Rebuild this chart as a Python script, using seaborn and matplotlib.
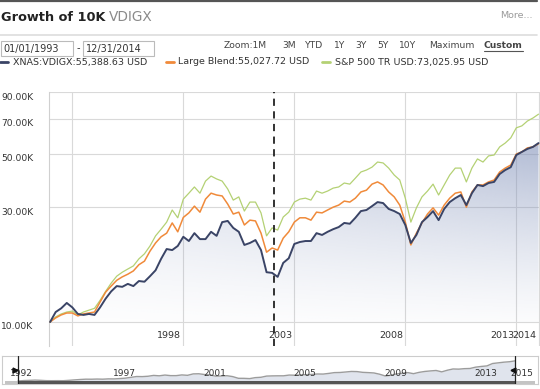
import numpy as np
import pandas as pd
import matplotlib
matplotlib.use("Agg")
import matplotlib.pyplot as plt
import matplotlib.transforms as mtransforms
from matplotlib.patches import Rectangle
from matplotlib.lines import Line2D
import seaborn as sns

# quarterly observations, 1993 Q1 -> end of 2014 (decimal years)
dates = np.arange(1993.0, 2015.01, 0.25)

# growth of 10K, values in thousands USD
vdigx = [10.0, 11.0, 11.4, 12.0, 11.5, 10.8, 10.7, 10.8, 10.7, 11.5,
         12.5, 13.4, 14.1, 14.0, 14.4, 14.1, 14.8, 14.7, 15.5, 16.4,
         18.3, 20.1, 19.9, 20.7, 22.6, 21.7, 23.4, 22.1, 22.1, 23.7,
         22.8, 26.0, 26.3, 24.6, 23.7, 20.9, 21.3, 21.9, 19.9, 16.1,
         16.0, 15.4, 17.6, 18.4, 21.1, 21.5, 21.7, 21.7, 23.4, 23.0,
         23.7, 24.3, 24.8, 25.8, 25.6, 27.1, 28.9, 29.2, 30.3, 31.5,
         31.2, 29.5, 28.9, 28.1, 25.3, 21.3, 23.0, 26.0, 27.3, 28.9,
         26.5, 29.5, 31.5, 32.7, 33.7, 30.6, 34.3, 37.1, 36.7, 37.8,
         38.2, 41.2, 42.8, 44.0, 49.4, 50.9, 52.4, 53.4, 55.39]
large_blend = [10.0, 10.4, 10.7, 10.9, 10.9, 10.6, 10.8, 10.9, 11.0, 12.1,
               13.3, 14.1, 14.9, 15.4, 15.8, 16.3, 17.3, 17.9, 19.7, 21.3,
               22.6, 23.4, 25.8, 23.7, 27.2, 28.4, 30.3, 28.6, 32.4, 34.3,
               33.7, 33.4, 30.9, 28.1, 28.6, 25.3, 26.5, 26.3, 23.4, 19.5,
               20.3, 19.9, 22.3, 23.7, 26.0, 27.1, 27.1, 26.5, 28.6, 28.4,
               29.2, 30.0, 30.6, 31.8, 31.5, 32.7, 34.7, 35.3, 37.4, 38.2,
               37.1, 34.7, 33.1, 30.6, 26.0, 20.9, 23.4, 25.8, 28.1, 29.8,
               27.8, 30.6, 32.7, 34.3, 34.7, 30.0, 34.7, 37.1, 37.1, 38.2,
               38.9, 42.0, 43.6, 44.9, 49.9, 50.9, 52.9, 53.4, 55.03]
sp500_tr = [10.0, 10.5, 10.8, 11.0, 11.1, 10.7, 11.0, 11.2, 11.4, 12.3,
            13.4, 14.5, 15.5, 16.1, 16.6, 17.1, 18.3, 19.2, 20.7, 22.8,
            24.3, 26.0, 29.2, 27.1, 32.4, 34.3, 36.4, 34.3, 38.5, 40.4,
            39.3, 38.5, 35.7, 32.1, 33.1, 28.9, 31.5, 31.5, 28.4, 22.8,
            24.6, 24.1, 27.3, 28.6, 31.5, 32.4, 32.7, 32.1, 35.0, 34.3,
            35.0, 36.0, 36.4, 37.8, 37.4, 39.6, 42.0, 42.8, 44.0, 46.2,
            45.8, 43.6, 40.8, 38.9, 32.7, 26.0, 29.8, 33.1, 35.0, 37.4,
            33.7, 37.1, 40.8, 43.6, 43.6, 38.2, 43.6, 47.6, 46.2, 49.0,
            49.4, 53.4, 55.4, 58.2, 64.1, 65.3, 68.4, 70.4, 73.03]

series_names = ["XNAS:VDIGX", "Large Blend", "S&P 500 TR USD"]
end_values = ["55,388.63", "55,027.72", "73,025.95"]
series_colors = ["#3a4466", "#f08a3a", "#b4d174"]

ytick_values = [10000, 30000, 50000, 70000, 90000]
ytick_labels = ["10.00K", "30.00K", "50.00K", "70.00K", "90.00K"]
xgrid_years = [1994, 1999, 2004, 2009, 2014, 2015]
xtick_labels = ["", "1998", "2003", "2008", "2013", "2014"]
nav_years = [1992, 1997, 2001, 2005, 2009, 2013, 2015]
zoom_buttons = ["Zoom:1M", "3M", "YTD", "1Y", "3Y", "5Y", "10Y", "Maximum"]
zoom_x = [224, 282, 305, 334, 355, 377, 399, 429]
marker_year = 2003.1
start_label, end_label = "01/01/1993", "12/31/2014"

df = pd.DataFrame({"date": dates,
                   series_names[0]: np.array(vdigx) * 1000,
                   series_names[1]: np.array(large_blend) * 1000,
                   series_names[2]: np.array(sp500_tr) * 1000})
long_df = df.melt(id_vars="date", var_name="series", value_name="value")

sns.set_style("white")
plt.rcParams["font.family"] = ["DejaVu Sans"]

W, H = 540, 389
fig = plt.figure(figsize=(W / 100, H / 100), dpi=100)
fig.patch.set_facecolor("white")


def fx(px):
    return px / W


def fy(py):
    return 1 - py / H


# ---- header ----
fig.add_artist(Line2D([0, fx(537)], [fy(1.2)] * 2, color="#555555", lw=1.6))
fig.add_artist(Line2D([0, fx(537)], [fy(35)] * 2, color="#dddddd", lw=1.2))
fig.text(fx(1), fy(21), "Growth of 10K", fontsize=9.3, fontweight="bold", color="#222222", va="baseline")
fig.text(fx(109), fy(21), "VDIGX", fontsize=9.8, color="#8a8a8a", va="baseline")
fig.text(fx(533), fy(18), "More...", fontsize=6.8, color="#9a9a9a", va="baseline", ha="right")

# date range boxes
for x0, x1, label in [(0.5, 73, start_label), (83, 154, end_label)]:
    fig.add_artist(Rectangle((fx(x0), fy(56)), fx(x1) - fx(x0), fy(41) - fy(56),
                             transform=fig.transFigure, fill=False, ec="#bbbbbb", lw=0.8))
    fig.text(fx(x0 + 2.5), fy(49), label, fontsize=7, color="#333333", va="center")
fig.text(fx(77), fy(48.5), "-", fontsize=7, color="#333333", va="center")

# zoom buttons
for label, x in zip(zoom_buttons, zoom_x):
    fig.text(fx(x), fy(46), label, fontsize=6.6, color="#444444", va="center")
fig.text(fx(484), fy(46), "Custom", fontsize=6.6, color="#444444", va="center", fontweight="bold")
fig.add_artist(Line2D([fx(484), fx(523)], [fy(51)] * 2, color="#555555", lw=0.8))

# legend row
for name, val, col, dx, tx in zip(series_names, end_values, series_colors, [0, 166, 322], [13, 178, 335]):
    fig.add_artist(Line2D([fx(dx), fx(dx + 8)], [fy(62)] * 2, color=col, lw=2))
    fig.text(fx(tx), fy(62), f"{name}:{val} USD", fontsize=6.8, color="#333333", va="center")

# ---- main chart ----
ax = fig.add_axes([fx(49), 1 - 346 / H, 491 / W, 254 / H])
ax.set_yscale("log")
xlim = (1992.95, 1992.95 + 491 / 22.2)
ylim = (7948, 90300)
ax.set_xlim(*xlim)
ax.set_ylim(*ylim)

# gradient area under the fund line
gh, gw = 256, 256
yy = np.linspace(0, 1, gh)[:, None]
xx = np.linspace(0, 1, gw)[None, :]
rgba = np.zeros((gh, gw, 4))
rgba[..., :3] = np.array([130, 146, 186]) / 255
rgba[..., 3] = 0.85 * (yy ** 1.4) * (0.45 + 0.55 * xx)
im = ax.imshow(rgba, extent=[0, 1, 0, 1], transform=ax.transAxes, origin="lower",
               aspect="auto", interpolation="bilinear", zorder=1)
poly = ax.fill_between(df["date"], df[series_names[0]], ytick_values[0], facecolor="none", lw=0)
im.set_clip_path(poly.get_paths()[0], transform=ax.transData)

for name, col, lw, z in zip(series_names[::-1], series_colors[::-1], [0.9, 1.1, 1.4], [3, 4, 5]):
    sns.lineplot(data=long_df[long_df["series"] == name], x="date", y="value",
                 color=col, linewidth=lw, ax=ax, zorder=z, legend=False)

ax.axvline(marker_year, color="#222222", lw=1.3, ls=(0, (4, 3)), zorder=6)

ax.set_xlim(*xlim)
ax.set_ylim(*ylim)
ax.minorticks_off()
ax.set_yticks(ytick_values)
ax.set_xticks(xgrid_years)
ax.grid(True, color="#d9d9d9", lw=0.8, zorder=0)
ax.set_axisbelow(True)
ax.tick_params(length=0, labelleft=False, labelbottom=False)
ax.set_xlabel("")
ax.set_ylabel("")
for s in ["top", "right", "bottom"]:
    ax.spines[s].set_visible(False)
ax.spines["left"].set_color("#d0d0d0")
ax.spines["left"].set_linewidth(0.8)

ytrans = mtransforms.offset_copy(mtransforms.blended_transform_factory(fig.transFigure, ax.transData),
                                 fig=fig, y=-5, units="dots")
for v, lab in zip(ytick_values, ytick_labels):
    ax.text(fx(1), v, lab, transform=ytrans, fontsize=6.6, color="#333333", va="center", ha="left", clip_on=False)

xtrans = mtransforms.offset_copy(mtransforms.blended_transform_factory(ax.transData, ax.transAxes),
                                 fig=fig, x=-2, units="dots")
for yr, lab in zip(xgrid_years, xtick_labels):
    ax.text(yr, 10 / 254, lab, transform=xtrans, fontsize=6.8, color="#333333", va="center", ha="right", clip_on=False)

# ---- navigator ----
nav = fig.add_axes([fx(2), 1 - 384 / H, 536 / W, 28 / H])
nav_xlim = (1992.29, 2016.01)
nav_ylim = (3250, 66300)
nav.fill_between(df["date"], df[series_names[0]], nav_ylim[0], color="#dde2eb", lw=0, alpha=0.9)
sns.lineplot(x=df["date"], y=df[series_names[0]], color="#9c9c9c", linewidth=1.0, ax=nav)
nav.set_xlim(*nav_xlim)
nav.set_ylim(*nav_ylim)
nav.set_xticks([])
nav.set_yticks([])
nav.set_xlabel("")
nav.set_ylabel("")
for s in nav.spines.values():
    s.set_color("#cccccc")
    s.set_linewidth(0.8)

ntrans = mtransforms.blended_transform_factory(nav.transData, nav.transAxes)
nav.add_patch(Rectangle((nav_xlim[0] + 0.13, 0), nav_xlim[1] - nav_xlim[0] - 0.26, 0.1,
                        transform=ntrans, color="#c4c4c4", lw=0, zorder=3))
nav.add_patch(Rectangle((dates[0], 0), dates[-1] - dates[0], 0.1,
                        transform=ntrans, color="#555555", lw=0, zorder=3))
for yr in nav_years:
    xpos = min(max(yr + 0.2, 1992.64), 2014.8)
    nav.text(xpos, 0.36, str(yr), transform=ntrans, fontsize=6.5, color="#333333", va="center", ha="left", zorder=4)
for d, m in [(dates[0], ">"), (dates[-1], "<")]:
    nav.plot([d, d], [0, 1], transform=ntrans, color="#222222", lw=0.9, zorder=5)
    nav.plot([d - 0.12 if m == ">" else d - 0.1], [0.5], transform=ntrans, marker=m,
             color="#111111", markersize=3.5, zorder=6)

fig.savefig("out.png", dpi=100)
